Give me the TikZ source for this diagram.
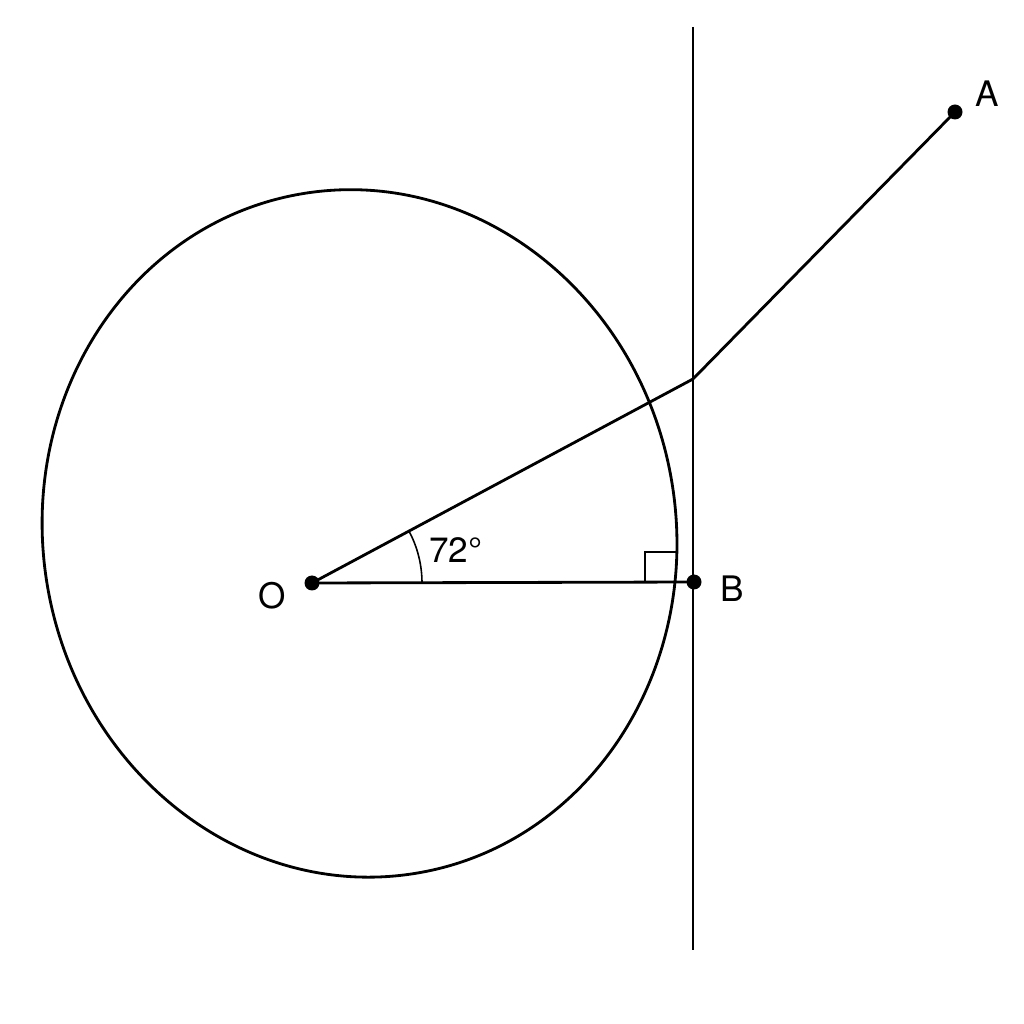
\documentclass[tikz,border=0pt]{standalone}
\usepackage{fontspec}
\setmainfont{TeX Gyre Heros}
\usepackage{tikz}
\usetikzlibrary{positioning}
\tikzset{
    point-dot/.style = {circle, fill=black, inner sep=0pt, minimum size=0.15cm},
    point-label/.style = {font=\fontsize{10}{12}\selectfont, inner sep=1pt},
    main-line/.style = {line width=0.8pt},
    thin-mark/.style = {line width=0.45pt},
}

\begin{document}
\begin{tikzpicture}
\useasboundingbox (0,0) rectangle (10.24,10.24);
% slightly tilted circle
\coordinate (C) at (3.595,4.905);
\draw[main-line, rotate around={10:(C)}] (C) ellipse [x radius=3.165, y radius=3.445];
\coordinate (top) at (6.93,9.97);
\coordinate (bottom) at (6.93,0.74);
\coordinate (K) at (6.93,6.45);
\draw[main-line] (top) -- (bottom);
\node[point-dot] (O) at (3.12,4.41) {};
\node[point-dot] (B) at (6.94,4.42) {};
\node[point-dot] (A) at (9.55,9.12) {};
\draw[main-line] (O.center) -- (B.center);
\draw[main-line] (O.center) -- (K) -- (A.center);
\draw[thin-mark] (4.22,4.41) arc [start angle=0, end angle=28.3, radius=1.10];
\draw[thin-mark] (6.45,4.41) -- (6.45,4.72) -- (6.76,4.72);
\node[point-label, xshift=-0.40cm, yshift=-0.13cm] (O-label) at (O) {O};
\node[point-label, xshift=0.38cm, yshift=-0.07cm] (B-label) at (B) {B};
\node[point-label, xshift=0.32cm, yshift=0.18cm] (A-label) at (A) {A};
\node[point-label] (angle-label) at (4.56,4.74) {72°};
\end{tikzpicture}
\end{document}
